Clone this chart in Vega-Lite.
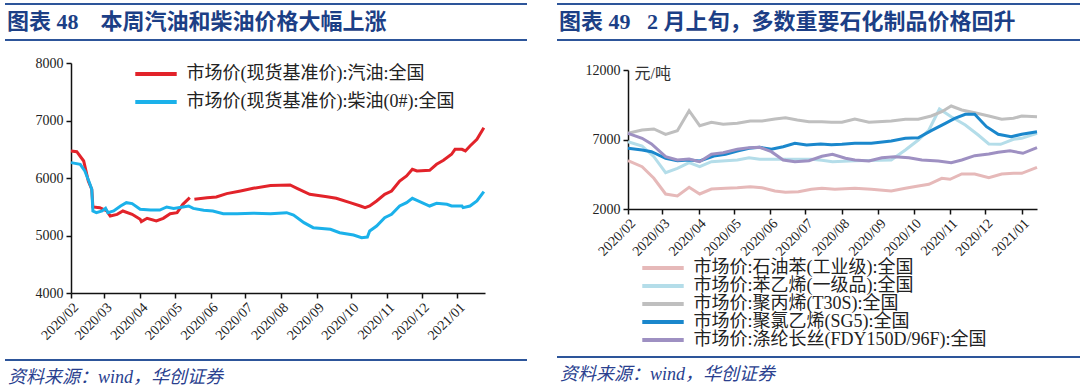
{
  "$schema": "https://vega.github.io/schema/vega-lite/v6.json",
  "background": "white",
  "padding": {"left": 4, "top": 3, "right": 0, "bottom": 0},
  "config": {
    "view": {"stroke": null},
    "font": "Liberation Serif, Noto Sans CJK SC",
    "axis": {"grid": false, "domainColor": "#111", "domainWidth": 1.5, "tickColor": "#111", "tickWidth": 1.5, "tickSize": 5, "labelFont": "Liberation Serif", "labelFontSize": 14, "labelColor": "#222", "labelOverlap": false}
  },
  "resolve": {"scale": {"color": "independent", "x": "independent", "y": "independent"}, "legend": {"color": "independent"}},
  "datasets": {
    "oil": [
      {"d":"2020-02-01","s":"市场价(现货基准价):汽油:全国","v":6470},
      {"d":"2020-02-06","s":"市场价(现货基准价):汽油:全国","v":6457},
      {"d":"2020-02-12","s":"市场价(现货基准价):汽油:全国","v":6296},
      {"d":"2020-02-16","s":"市场价(现货基准价):汽油:全国","v":5948},
      {"d":"2020-02-19","s":"市场价(现货基准价):汽油:全国","v":5804},
      {"d":"2020-02-20","s":"市场价(现货基准价):汽油:全国","v":5496},
      {"d":"2020-02-26","s":"市场价(现货基准价):汽油:全国","v":5484},
      {"d":"2020-03-03","s":"市场价(现货基准价):汽油:全国","v":5426},
      {"d":"2020-03-06","s":"市场价(现货基准价):汽油:全国","v":5339},
      {"d":"2020-03-12","s":"市场价(现货基准价):汽油:全国","v":5368},
      {"d":"2020-03-17","s":"市场价(现货基准价):汽油:全国","v":5426},
      {"d":"2020-03-25","s":"市场价(现货基准价):汽油:全国","v":5368},
      {"d":"2020-04-01","s":"市场价(现货基准价):汽油:全国","v":5281},
      {"d":"2020-04-02","s":"市场价(现货基准价):汽油:全国","v":5241},
      {"d":"2020-04-07","s":"市场价(现货基准价):汽油:全国","v":5299},
      {"d":"2020-04-15","s":"市场价(现货基准价):汽油:全国","v":5252},
      {"d":"2020-04-21","s":"市场价(现货基准价):汽油:全国","v":5299},
      {"d":"2020-04-27","s":"市场价(现货基准价):汽油:全国","v":5380},
      {"d":"2020-05-03","s":"市场价(现货基准价):汽油:全国","v":5397},
      {"d":"2020-05-08","s":"市场价(现货基准价):汽油:全国","v":5542},
      {"d":"2020-05-14","s":"市场价(现货基准价):汽油:全国","v":5658},
      {"d":"2020-05-16","s":"市场价(现货基准价):汽油:全国","v":null},
      {"d":"2020-05-18","s":"市场价(现货基准价):汽油:全国","v":5629},
      {"d":"2020-05-29","s":"市场价(现货基准价):汽油:全国","v":5658},
      {"d":"2020-06-06","s":"市场价(现货基准价):汽油:全国","v":5670},
      {"d":"2020-06-15","s":"市场价(现货基准价):汽油:全国","v":5728},
      {"d":"2020-06-27","s":"市场价(现货基准价):汽油:全国","v":5774},
      {"d":"2020-07-08","s":"市场价(现货基准价):汽油:全国","v":5821},
      {"d":"2020-07-23","s":"市场价(现货基准价):汽油:全国","v":5870},
      {"d":"2020-08-09","s":"市场价(现货基准价):汽油:全国","v":5878},
      {"d":"2020-08-15","s":"市场价(现货基准价):汽油:全国","v":5821},
      {"d":"2020-08-26","s":"市场价(现货基准价):汽油:全国","v":5716},
      {"d":"2020-09-10","s":"市场价(现货基准价):汽油:全国","v":5675},
      {"d":"2020-09-18","s":"市场价(现货基准价):汽油:全国","v":5647},
      {"d":"2020-09-30","s":"市场价(现货基准价):汽油:全国","v":5571},
      {"d":"2020-10-09","s":"市场价(现货基准价):汽油:全国","v":5513},
      {"d":"2020-10-13","s":"市场价(现货基准价):汽油:全国","v":5484},
      {"d":"2020-10-17","s":"市场价(现货基准价):汽油:全国","v":5513},
      {"d":"2020-10-23","s":"市场价(现货基准价):汽油:全国","v":5600},
      {"d":"2020-10-30","s":"市场价(现货基准价):汽油:全国","v":5716},
      {"d":"2020-11-05","s":"市场价(现货基准价):汽油:全国","v":5774},
      {"d":"2020-11-12","s":"市场价(现货基准价):汽油:全国","v":5948},
      {"d":"2020-11-18","s":"市场价(现货基准价):汽油:全国","v":6035},
      {"d":"2020-11-23","s":"市场价(现货基准价):汽油:全国","v":6151},
      {"d":"2020-11-27","s":"市场价(现货基准价):汽油:全国","v":6122},
      {"d":"2020-12-08","s":"市场价(现货基准价):汽油:全国","v":6134},
      {"d":"2020-12-14","s":"市场价(现货基准价):汽油:全国","v":6238},
      {"d":"2020-12-20","s":"市场价(现货基准价):汽油:全国","v":6308},
      {"d":"2020-12-27","s":"市场价(现货基准价):汽油:全国","v":6412},
      {"d":"2020-12-30","s":"市场价(现货基准价):汽油:全国","v":6499},
      {"d":"2021-01-05","s":"市场价(现货基准价):汽油:全国","v":6499},
      {"d":"2021-01-08","s":"市场价(现货基准价):汽油:全国","v":6470},
      {"d":"2021-01-12","s":"市场价(现货基准价):汽油:全国","v":6557},
      {"d":"2021-01-18","s":"市场价(现货基准价):汽油:全国","v":6673},
      {"d":"2021-01-24","s":"市场价(现货基准价):汽油:全国","v":6875},
      {"d":"2020-02-01","s":"市场价(现货基准价):柴油(0#):全国","v":6267},
      {"d":"2020-02-09","s":"市场价(现货基准价):柴油(0#):全国","v":6238},
      {"d":"2020-02-13","s":"市场价(现货基准价):柴油(0#):全国","v":6122},
      {"d":"2020-02-17","s":"市场价(现货基准价):柴油(0#):全国","v":5919},
      {"d":"2020-02-19","s":"市场价(现货基准价):柴油(0#):全国","v":5804},
      {"d":"2020-02-20","s":"市场价(现货基准价):柴油(0#):全国","v":5426},
      {"d":"2020-02-23","s":"市场价(现货基准价):柴油(0#):全国","v":5397},
      {"d":"2020-02-28","s":"市场价(现货基准价):柴油(0#):全国","v":5426},
      {"d":"2020-03-02","s":"市场价(现货基准价):柴油(0#):全国","v":5472},
      {"d":"2020-03-04","s":"市场价(现货基准价):柴油(0#):全国","v":5397},
      {"d":"2020-03-09","s":"市场价(现货基准价):柴油(0#):全国","v":5426},
      {"d":"2020-03-15","s":"市场价(现货基准价):柴油(0#):全国","v":5513},
      {"d":"2020-03-20","s":"市场价(现货基准价):柴油(0#):全国","v":5571},
      {"d":"2020-03-25","s":"市场价(现货基准价):柴油(0#):全国","v":5554},
      {"d":"2020-04-01","s":"市场价(现货基准价):柴油(0#):全国","v":5455},
      {"d":"2020-04-10","s":"市场价(现货基准价):柴油(0#):全国","v":5443},
      {"d":"2020-04-18","s":"市场价(现货基准价):柴油(0#):全国","v":5443},
      {"d":"2020-04-24","s":"市场价(现货基准价):柴油(0#):全国","v":5496},
      {"d":"2020-04-30","s":"市场价(现货基准价):柴油(0#):全国","v":5472},
      {"d":"2020-05-08","s":"市场价(现货基准价):柴油(0#):全国","v":5496},
      {"d":"2020-05-13","s":"市场价(现货基准价):柴油(0#):全国","v":5513},
      {"d":"2020-05-17","s":"市场价(现货基准价):柴油(0#):全国","v":5472},
      {"d":"2020-05-26","s":"市场价(现货基准价):柴油(0#):全国","v":5438},
      {"d":"2020-06-03","s":"市场价(现货基准价):柴油(0#):全国","v":5426},
      {"d":"2020-06-12","s":"市场价(现货基准价):柴油(0#):全国","v":5380},
      {"d":"2020-06-24","s":"市场价(现货基准价):柴油(0#):全国","v":5380},
      {"d":"2020-07-08","s":"市场价(现货基准价):柴油(0#):全国","v":5386},
      {"d":"2020-07-23","s":"市场价(现货基准价):柴油(0#):全国","v":5380},
      {"d":"2020-08-06","s":"市场价(现货基准价):柴油(0#):全国","v":5397},
      {"d":"2020-08-12","s":"市场价(现货基准价):柴油(0#):全国","v":5357},
      {"d":"2020-08-21","s":"市场价(现货基准价):柴油(0#):全国","v":5223},
      {"d":"2020-08-29","s":"市场价(现货基准价):柴油(0#):全国","v":5136},
      {"d":"2020-09-13","s":"市场价(现货基准价):柴油(0#):全国","v":5107},
      {"d":"2020-09-21","s":"市场价(现货基准价):柴油(0#):全国","v":5049},
      {"d":"2020-10-03","s":"市场价(现货基准价):柴油(0#):全国","v":5009},
      {"d":"2020-10-10","s":"市场价(现货基准价):柴油(0#):全国","v":4962},
      {"d":"2020-10-15","s":"市场价(现货基准价):柴油(0#):全国","v":4974},
      {"d":"2020-10-17","s":"市场价(现货基准价):柴油(0#):全国","v":5078},
      {"d":"2020-10-23","s":"市场价(现货基准价):柴油(0#):全国","v":5165},
      {"d":"2020-10-30","s":"市场价(现货基准价):柴油(0#):全国","v":5310},
      {"d":"2020-11-05","s":"市场价(现货基准价):柴油(0#):全国","v":5368},
      {"d":"2020-11-12","s":"市场价(现货基准价):柴油(0#):全国","v":5513},
      {"d":"2020-11-18","s":"市场价(现货基准价):柴油(0#):全国","v":5571},
      {"d":"2020-11-23","s":"市场价(现货基准价):柴油(0#):全国","v":5647},
      {"d":"2020-11-27","s":"市场价(现货基准价):柴油(0#):全国","v":5612},
      {"d":"2020-12-08","s":"市场价(现货基准价):柴油(0#):全国","v":5513},
      {"d":"2020-12-14","s":"市场价(现货基准价):柴油(0#):全国","v":5560},
      {"d":"2020-12-23","s":"市场价(现货基准价):柴油(0#):全国","v":5542},
      {"d":"2020-12-27","s":"市场价(现货基准价):柴油(0#):全国","v":5513},
      {"d":"2021-01-05","s":"市场价(现货基准价):柴油(0#):全国","v":5513},
      {"d":"2021-01-06","s":"市场价(现货基准价):柴油(0#):全国","v":5484},
      {"d":"2021-01-12","s":"市场价(现货基准价):柴油(0#):全国","v":5513},
      {"d":"2021-01-18","s":"市场价(现货基准价):柴油(0#):全国","v":5600},
      {"d":"2021-01-24","s":"市场价(现货基准价):柴油(0#):全国","v":5762}
    ],
    "chem": [
      {"d":"2020-02-01","s":"市场价:石油苯(工业级):全国","v":5475},
      {"d":"2020-02-13","s":"市场价:石油苯(工业级):全国","v":5043},
      {"d":"2020-02-23","s":"市场价:石油苯(工业级):全国","v":4209},
      {"d":"2020-03-04","s":"市场价:石油苯(工业级):全国","v":3079},
      {"d":"2020-03-14","s":"市场价:石油苯(工业级):全国","v":2935},
      {"d":"2020-03-24","s":"市场价:石油苯(工业级):全国","v":3561},
      {"d":"2020-04-02","s":"市场价:石油苯(工业级):全国","v":3079},
      {"d":"2020-04-12","s":"市场价:石油苯(工业级):全国","v":3439},
      {"d":"2020-04-24","s":"市场价:石油苯(工业级):全国","v":3489},
      {"d":"2020-05-04","s":"市场价:石油苯(工业级):全国","v":3532},
      {"d":"2020-05-15","s":"市场价:石油苯(工业级):全国","v":3604},
      {"d":"2020-05-25","s":"市场价:石油苯(工业级):全国","v":3532},
      {"d":"2020-06-05","s":"市场价:石油苯(工业级):全国","v":3295},
      {"d":"2020-06-14","s":"市场价:石油苯(工业级):全国","v":3201},
      {"d":"2020-06-25","s":"市场价:石油苯(工业级):全国","v":3245},
      {"d":"2020-07-06","s":"市场价:石油苯(工业级):全国","v":3417},
      {"d":"2020-07-15","s":"市场价:石油苯(工业级):全国","v":3489},
      {"d":"2020-07-26","s":"市场价:石油苯(工业级):全国","v":3417},
      {"d":"2020-08-12","s":"市场价:石油苯(工业级):全国","v":3489},
      {"d":"2020-08-26","s":"市场价:石油苯(工业级):全国","v":3417},
      {"d":"2020-09-12","s":"市场价:石油苯(工业级):全国","v":3295},
      {"d":"2020-09-24","s":"市场价:石油苯(工业级):全国","v":3489},
      {"d":"2020-10-05","s":"市场价:石油苯(工业级):全国","v":3655},
      {"d":"2020-10-14","s":"市场价:石油苯(工业级):全国","v":3777},
      {"d":"2020-10-25","s":"市场价:石油苯(工业级):全国","v":4209},
      {"d":"2020-11-01","s":"市场价:石油苯(工业级):全国","v":4137},
      {"d":"2020-11-11","s":"市场价:石油苯(工业级):全国","v":4518},
      {"d":"2020-11-22","s":"市场价:石油苯(工业级):全国","v":4518},
      {"d":"2020-12-04","s":"市场价:石油苯(工业级):全国","v":4252},
      {"d":"2020-12-15","s":"市场价:石油苯(工业级):全国","v":4518},
      {"d":"2020-12-25","s":"市场价:石油苯(工业级):全国","v":4568},
      {"d":"2021-01-01","s":"市场价:石油苯(工业级):全国","v":4568},
      {"d":"2021-01-14","s":"市场价:石油苯(工业级):全国","v":5000},
      {"d":"2020-02-01","s":"市场价:苯乙烯(一级品):全国","v":6842},
      {"d":"2020-02-13","s":"市场价:苯乙烯(一级品):全国","v":6533},
      {"d":"2020-02-23","s":"市场价:苯乙烯(一级品):全国","v":5763},
      {"d":"2020-03-04","s":"市场价:苯乙烯(一级品):全国","v":4612},
      {"d":"2020-03-14","s":"市场价:苯乙烯(一级品):全国","v":4928},
      {"d":"2020-03-24","s":"市场价:苯乙烯(一级品):全国","v":5331},
      {"d":"2020-04-02","s":"市场价:苯乙烯(一级品):全国","v":5043},
      {"d":"2020-04-12","s":"市场价:苯乙烯(一级品):全国","v":5403},
      {"d":"2020-04-24","s":"市场价:苯乙烯(一级品):全国","v":5475},
      {"d":"2020-05-04","s":"市场价:苯乙烯(一级品):全国","v":5525},
      {"d":"2020-05-14","s":"市场价:苯乙烯(一级品):全国","v":5691},
      {"d":"2020-05-23","s":"市场价:苯乙烯(一级品):全国","v":5576},
      {"d":"2020-06-02","s":"市场价:苯乙烯(一级品):全国","v":5576},
      {"d":"2020-06-14","s":"市场价:苯乙烯(一级品):全国","v":5576},
      {"d":"2020-06-25","s":"市场价:苯乙烯(一级品):全国","v":5576},
      {"d":"2020-07-06","s":"市场价:苯乙烯(一级品):全国","v":5576},
      {"d":"2020-07-15","s":"市场价:苯乙烯(一级品):全国","v":5500},
      {"d":"2020-07-24","s":"市场价:苯乙烯(一级品):全国","v":5403},
      {"d":"2020-08-12","s":"市场价:苯乙烯(一级品):全国","v":5475},
      {"d":"2020-09-12","s":"市场价:苯乙烯(一级品):全国","v":5525},
      {"d":"2020-09-24","s":"市场价:苯乙烯(一级品):全国","v":6245},
      {"d":"2020-10-05","s":"市场价:苯乙烯(一级品):全国","v":6964},
      {"d":"2020-10-14","s":"市场价:苯乙烯(一级品):全国","v":7684},
      {"d":"2020-10-23","s":"市场价:苯乙烯(一级品):全国","v":9194},
      {"d":"2020-11-02","s":"市场价:苯乙烯(一级品):全国","v":8640},
      {"d":"2020-11-14","s":"市场价:苯乙烯(一级品):全国","v":8043},
      {"d":"2020-11-25","s":"市场价:苯乙烯(一级品):全国","v":7324},
      {"d":"2020-12-04","s":"市场价:苯乙烯(一级品):全国","v":6677},
      {"d":"2020-12-14","s":"市场价:苯乙烯(一级品):全国","v":6655},
      {"d":"2020-12-25","s":"市场价:苯乙烯(一级品):全国","v":7014},
      {"d":"2021-01-01","s":"市场价:苯乙烯(一级品):全国","v":7086},
      {"d":"2021-01-14","s":"市场价:苯乙烯(一级品):全国","v":7450},
      {"d":"2020-02-01","s":"市场价:聚丙烯(T30S):全国","v":7444},
      {"d":"2020-02-13","s":"市场价:聚丙烯(T30S):全国","v":7684},
      {"d":"2020-02-23","s":"市场价:聚丙烯(T30S):全国","v":7756},
      {"d":"2020-03-04","s":"市场价:聚丙烯(T30S):全国","v":7373},
      {"d":"2020-03-14","s":"市场价:聚丙烯(T30S):全国","v":7636},
      {"d":"2020-03-24","s":"市场价:聚丙烯(T30S):全国","v":9072},
      {"d":"2020-04-02","s":"市场价:聚丙烯(T30S):全国","v":7995},
      {"d":"2020-04-12","s":"市场价:聚丙烯(T30S):全国","v":8236},
      {"d":"2020-04-22","s":"市场价:聚丙烯(T30S):全国","v":8093},
      {"d":"2020-05-04","s":"市场价:聚丙烯(T30S):全国","v":8165},
      {"d":"2020-05-15","s":"市场价:聚丙烯(T30S):全国","v":8331},
      {"d":"2020-05-25","s":"市场价:聚丙烯(T30S):全国","v":8331},
      {"d":"2020-06-05","s":"市场价:聚丙烯(T30S):全国","v":8475},
      {"d":"2020-06-14","s":"市场价:聚丙烯(T30S):全国","v":8569},
      {"d":"2020-06-24","s":"市场价:聚丙烯(T30S):全国","v":8403},
      {"d":"2020-07-04","s":"市场价:聚丙烯(T30S):全国","v":8281},
      {"d":"2020-07-15","s":"市场价:聚丙烯(T30S):全国","v":8281},
      {"d":"2020-07-23","s":"市场价:聚丙烯(T30S):全国","v":8236},
      {"d":"2020-08-01","s":"市场价:聚丙烯(T30S):全国","v":8236},
      {"d":"2020-08-12","s":"市场价:聚丙烯(T30S):全国","v":8475},
      {"d":"2020-08-24","s":"市场价:聚丙烯(T30S):全国","v":8236},
      {"d":"2020-09-12","s":"市场价:聚丙烯(T30S):全国","v":8331},
      {"d":"2020-09-24","s":"市场价:聚丙烯(T30S):全国","v":8453},
      {"d":"2020-10-05","s":"市场价:聚丙烯(T30S):全国","v":8453},
      {"d":"2020-10-16","s":"市场价:聚丙烯(T30S):全国","v":8691},
      {"d":"2020-10-25","s":"市场价:聚丙烯(T30S):全国","v":9000},
      {"d":"2020-11-02","s":"市场价:聚丙烯(T30S):全国","v":9410},
      {"d":"2020-11-11","s":"市场价:聚丙烯(T30S):全国","v":9122},
      {"d":"2020-11-22","s":"市场价:聚丙烯(T30S):全国","v":8928},
      {"d":"2020-12-04","s":"市场价:聚丙烯(T30S):全国","v":8691},
      {"d":"2020-12-15","s":"市场价:聚丙烯(T30S):全国","v":8453},
      {"d":"2020-12-25","s":"市场价:聚丙烯(T30S):全国","v":8525},
      {"d":"2021-01-01","s":"市场价:聚丙烯(T30S):全国","v":8691},
      {"d":"2021-01-14","s":"市场价:聚丙烯(T30S):全国","v":8640},
      {"d":"2020-02-01","s":"市场价:聚氯乙烯(SG5):全国","v":6367},
      {"d":"2020-02-13","s":"市场价:聚氯乙烯(SG5):全国","v":6245},
      {"d":"2020-02-21","s":"市场价:聚氯乙烯(SG5):全国","v":6122},
      {"d":"2020-03-04","s":"市场价:聚氯乙烯(SG5):全国","v":5648},
      {"d":"2020-03-14","s":"市场价:聚氯乙烯(SG5):全国","v":5475},
      {"d":"2020-03-24","s":"市场价:聚氯乙烯(SG5):全国","v":5525},
      {"d":"2020-04-02","s":"市场价:聚氯乙烯(SG5):全国","v":5453},
      {"d":"2020-04-14","s":"市场价:聚氯乙烯(SG5):全国","v":5813},
      {"d":"2020-04-24","s":"市场价:聚氯乙烯(SG5):全国","v":5935},
      {"d":"2020-05-04","s":"市场价:聚氯乙烯(SG5):全国","v":6173},
      {"d":"2020-05-14","s":"市场价:聚氯乙烯(SG5):全国","v":6367},
      {"d":"2020-05-23","s":"市场价:聚氯乙烯(SG5):全国","v":6439},
      {"d":"2020-06-02","s":"市场价:聚氯乙烯(SG5):全国","v":6295},
      {"d":"2020-06-12","s":"市场价:聚氯乙烯(SG5):全国","v":6482},
      {"d":"2020-06-22","s":"市场价:聚氯乙烯(SG5):全国","v":6727},
      {"d":"2020-07-02","s":"市场价:聚氯乙烯(SG5):全国","v":6605},
      {"d":"2020-07-14","s":"市场价:聚氯乙烯(SG5):全国","v":6677},
      {"d":"2020-07-23","s":"市场价:聚氯乙烯(SG5):全国","v":6630},
      {"d":"2020-08-01","s":"市场价:聚氯乙烯(SG5):全国","v":6655},
      {"d":"2020-08-12","s":"市场价:聚氯乙烯(SG5):全国","v":6727},
      {"d":"2020-08-26","s":"市场价:聚氯乙烯(SG5):全国","v":6727},
      {"d":"2020-09-12","s":"市场价:聚氯乙烯(SG5):全国","v":6892},
      {"d":"2020-09-24","s":"市场价:聚氯乙烯(SG5):全国","v":7086},
      {"d":"2020-10-05","s":"市场价:聚氯乙烯(SG5):全国","v":7130},
      {"d":"2020-10-16","s":"市场价:聚氯乙烯(SG5):全国","v":7636},
      {"d":"2020-10-28","s":"市场价:聚氯乙烯(SG5):全国","v":8165},
      {"d":"2020-11-05","s":"市场价:聚氯乙烯(SG5):全国","v":8525},
      {"d":"2020-11-14","s":"市场价:聚氯乙烯(SG5):全国","v":8813},
      {"d":"2020-11-22","s":"市场价:聚氯乙烯(SG5):全国","v":8813},
      {"d":"2020-12-02","s":"市场价:聚氯乙烯(SG5):全国","v":7921},
      {"d":"2020-12-12","s":"市场价:聚氯乙烯(SG5):全国","v":7374},
      {"d":"2020-12-23","s":"市场价:聚氯乙烯(SG5):全国","v":7201},
      {"d":"2021-01-01","s":"市场价:聚氯乙烯(SG5):全国","v":7374},
      {"d":"2021-01-14","s":"市场价:聚氯乙烯(SG5):全国","v":7563},
      {"d":"2020-02-01","s":"市场价:涤纶长丝(FDY150D/96F):全国","v":7444},
      {"d":"2020-02-13","s":"市场价:涤纶长丝(FDY150D/96F):全国","v":7086},
      {"d":"2020-02-21","s":"市场价:涤纶长丝(FDY150D/96F):全国","v":6677},
      {"d":"2020-03-04","s":"市场价:涤纶长丝(FDY150D/96F):全国","v":5763},
      {"d":"2020-03-14","s":"市场价:涤纶长丝(FDY150D/96F):全国","v":5525},
      {"d":"2020-03-24","s":"市场价:涤纶长丝(FDY150D/96F):全国","v":5597},
      {"d":"2020-04-02","s":"市场价:涤纶长丝(FDY150D/96F):全国","v":5403},
      {"d":"2020-04-12","s":"市场价:涤纶长丝(FDY150D/96F):全国","v":5935},
      {"d":"2020-04-22","s":"市场价:涤纶长丝(FDY150D/96F):全国","v":6050},
      {"d":"2020-05-04","s":"市场价:涤纶长丝(FDY150D/96F):全国","v":6295},
      {"d":"2020-05-14","s":"市场价:涤纶长丝(FDY150D/96F):全国","v":6410},
      {"d":"2020-05-23","s":"市场价:涤纶长丝(FDY150D/96F):全国","v":6439},
      {"d":"2020-06-02","s":"市场价:涤纶长丝(FDY150D/96F):全国","v":6122},
      {"d":"2020-06-12","s":"市场价:涤纶长丝(FDY150D/96F):全国","v":5525},
      {"d":"2020-06-22","s":"市场价:涤纶长丝(FDY150D/96F):全国","v":5403},
      {"d":"2020-07-04","s":"市场价:涤纶长丝(FDY150D/96F):全国","v":5475},
      {"d":"2020-07-15","s":"市场价:涤纶长丝(FDY150D/96F):全国","v":5790},
      {"d":"2020-07-24","s":"市场价:涤纶长丝(FDY150D/96F):全国","v":5935},
      {"d":"2020-08-04","s":"市场价:涤纶长丝(FDY150D/96F):全国","v":5648},
      {"d":"2020-08-12","s":"市场价:涤纶长丝(FDY150D/96F):全国","v":5525},
      {"d":"2020-08-24","s":"市场价:涤纶长丝(FDY150D/96F):全国","v":5453},
      {"d":"2020-09-04","s":"市场价:涤纶长丝(FDY150D/96F):全国","v":5691},
      {"d":"2020-09-15","s":"市场价:涤纶长丝(FDY150D/96F):全国","v":5763},
      {"d":"2020-09-27","s":"市场价:涤纶长丝(FDY150D/96F):全国","v":5691},
      {"d":"2020-10-08","s":"市场价:涤纶长丝(FDY150D/96F):全国","v":5525},
      {"d":"2020-10-22","s":"市场价:涤纶长丝(FDY150D/96F):全国","v":5453},
      {"d":"2020-11-02","s":"市场价:涤纶长丝(FDY150D/96F):全国","v":5331},
      {"d":"2020-11-11","s":"市场价:涤纶长丝(FDY150D/96F):全国","v":5525},
      {"d":"2020-11-22","s":"市场价:涤纶长丝(FDY150D/96F):全国","v":5835},
      {"d":"2020-12-04","s":"市场价:涤纶长丝(FDY150D/96F):全国","v":5957},
      {"d":"2020-12-12","s":"市场价:涤纶长丝(FDY150D/96F):全国","v":6079},
      {"d":"2020-12-22","s":"市场价:涤纶长丝(FDY150D/96F):全国","v":6194},
      {"d":"2021-01-02","s":"市场价:涤纶长丝(FDY150D/96F):全国","v":6007},
      {"d":"2021-01-14","s":"市场价:涤纶长丝(FDY150D/96F):全国","v":6410}
    ]
  },
  "spacing": 28,
  "hconcat": [
    {
      "spacing": 15,
      "resolve": {"scale": {"color": "independent", "x": "independent", "y": "independent"}, "legend": {"color": "independent"}},
      "vconcat": [
        {
          "width": 522, "height": 36,
          "data": {"values": [{"t": "图表 48\u00a0\u00a0\u00a0\u00a0本周汽油和柴油价格大幅上涨"}]},
          "layer": [
            {"mark": {"type": "rule", "color": "#2d559a", "strokeWidth": 2}, "encoding": {"y": {"datum": 1, "type": "quantitative", "scale": {"domain": [0, 1]}, "axis": null}}},
            {"mark": {"type": "rule", "color": "#2d559a", "strokeWidth": 2}, "encoding": {"y": {"datum": 0, "type": "quantitative", "scale": {"domain": [0, 1]}, "axis": null}}},
            {"mark": {"type": "text", "align": "left", "baseline": "middle", "dx": 2, "fontSize": 22, "fontWeight": "bold", "color": "#1c3f86", "font": "Liberation Serif, Noto Sans CJK SC"},
             "encoding": {"x": {"datum": 0, "type": "quantitative", "scale": {"domain": [0, 1]}, "axis": null}, "y": {"datum": 0.5, "type": "quantitative", "scale": {"domain": [0, 1]}, "axis": null}, "text": {"field": "t"}}}
          ]
        },
        {
          "spacing": 16,
          "resolve": {"scale": {"color": "independent", "x": "independent", "y": "independent"}, "legend": {"color": "independent"}},
          "vconcat": [
            {
              "spacing": 0,
              "resolve": {"scale": {"color": "independent", "x": "independent", "y": "independent"}, "legend": {"color": "independent"}},
              "hconcat": [
                {"width": 1, "height": 230, "data": {"values": []}, "mark": {"type": "text"}, "encoding": {}},
                {
                  "width": 414, "height": 230,
                  "data": {"name": "oil"},
                  "mark": {"type": "line", "strokeWidth": 3},
                  "encoding": {
                    "x": {"field": "d", "type": "temporal", "scale": {"type": "utc", "domain": [{"year": 2020, "month": 2, "date": 1, "utc": true}, {"year": 2021, "month": 1, "date": 25, "utc": true}]}, "axis": {"title": null, "format": "%Y/%m", "tickCount": {"interval": "month", "step": 1}, "labelAngle": -45, "labelPadding": 2}},
                    "y": {"field": "v", "type": "quantitative", "scale": {"domain": [4000, 8000], "zero": false, "nice": false}, "axis": {"title": null, "format": "d", "values": [4000, 5000, 6000, 7000, 8000], "minExtent": 65, "labelPadding": 3}},
                    "color": {"field": "s", "type": "nominal", "scale": {"domain": ["市场价(现货基准价):汽油:全国", "市场价(现货基准价):柴油(0#):全国"], "range": ["#e2232a", "#1bb1ea"]},
                      "legend": {"orient": "none", "legendX": 76, "legendY": 2, "title": null, "padding": 0, "symbolType": "M-2.96,0H2.96", "symbolSize": 196, "symbolStrokeWidth": 4, "labelFontSize": 18, "labelFont": "Liberation Serif, Noto Sans CJK SC", "labelColor": "#222", "rowPadding": 10, "labelOffset": 21.5, "labelLimit": 400}}
                  }
                }
              ]
            },
            {
              "width": 522, "height": 18,
              "data": {"values": [{"t": "资料来源：wind，华创证券"}]},
              "layer": [
                {"mark": {"type": "rule", "color": "#2d559a", "strokeWidth": 2}, "encoding": {"y": {"datum": 1, "type": "quantitative", "scale": {"domain": [0, 1]}, "axis": null}}},
                {"mark": {"type": "text", "align": "left", "baseline": "middle", "dx": 3, "fontSize": 18, "fontStyle": "italic", "color": "#2a3f8f", "font": "Liberation Serif, Noto Sans CJK SC"},
                 "encoding": {"x": {"datum": 0, "type": "quantitative", "scale": {"domain": [0, 1]}, "axis": null}, "y": {"datum": 0, "type": "quantitative", "scale": {"domain": [0, 1]}, "axis": null}, "text": {"field": "t"}}}
              ]
            }
          ]
        }
      ]
    },
    {
      "spacing": 22,
      "resolve": {"scale": {"color": "independent", "x": "independent", "y": "independent"}, "legend": {"color": "independent"}},
      "vconcat": [
        {
          "width": 525, "height": 36,
          "data": {"values": [{"t": "图表 49\u00a0\u00a0\u00a02 月上旬，多数重要石化制品价格回升"}]},
          "layer": [
            {"mark": {"type": "rule", "color": "#2d559a", "strokeWidth": 2}, "encoding": {"y": {"datum": 1, "type": "quantitative", "scale": {"domain": [0, 1]}, "axis": null}}},
            {"mark": {"type": "rule", "color": "#2d559a", "strokeWidth": 2}, "encoding": {"y": {"datum": 0, "type": "quantitative", "scale": {"domain": [0, 1]}, "axis": null}}},
            {"mark": {"type": "text", "align": "left", "baseline": "middle", "dx": 2, "fontSize": 22, "fontWeight": "bold", "color": "#1c3f86", "font": "Liberation Serif, Noto Sans CJK SC"},
             "encoding": {"x": {"datum": 0, "type": "quantitative", "scale": {"domain": [0, 1]}, "axis": null}, "y": {"datum": 0.5, "type": "quantitative", "scale": {"domain": [0, 1]}, "axis": null}, "text": {"field": "t"}}}
          ]
        },
        {
          "spacing": 7,
          "resolve": {"scale": {"color": "independent", "x": "independent", "y": "independent"}, "legend": {"color": "independent"}},
          "vconcat": [
            {
              "spacing": 0,
              "resolve": {"scale": {"color": "independent", "x": "independent", "y": "independent"}, "legend": {"color": "independent"}},
              "hconcat": [
                {"width": 1, "height": 139, "data": {"values": []}, "mark": {"type": "text"}, "encoding": {}},
                {
                  "width": 409, "height": 139,
                  "data": {"name": "chem"},
                  "mark": {"type": "line", "strokeWidth": 3},
                  "encoding": {
                    "x": {"field": "d", "type": "temporal", "scale": {"type": "utc", "domain": [{"year": 2020, "month": 2, "date": 1, "utc": true}, {"year": 2021, "month": 1, "date": 14, "utc": true}]}, "axis": {"title": null, "format": "%Y/%m", "tickCount": {"interval": "month", "step": 1}, "labelAngle": -45, "labelPadding": 2}},
                    "y": {"field": "v", "type": "quantitative", "scale": {"domain": [2000, 12000], "zero": false, "nice": false}, "axis": {"title": "元/吨", "titleAngle": 0, "titleAlign": "left", "titleBaseline": "middle", "titleX": 6, "titleY": 3, "titleFontSize": 16, "titleFontWeight": "normal", "titleColor": "#333", "titleFont": "Liberation Serif, Noto Sans CJK SC", "format": "d", "values": [2000, 7000, 12000], "minExtent": 70, "labelPadding": 3}},
                    "color": {"field": "s", "type": "nominal", "scale": {"domain": ["市场价:石油苯(工业级):全国", "市场价:苯乙烯(一级品):全国", "市场价:聚丙烯(T30S):全国", "市场价:聚氯乙烯(SG5):全国", "市场价:涤纶长丝(FDY150D/96F):全国"], "range": ["#e6b9b9", "#b4dde9", "#bfbfbf", "#1a87cc", "#9e90c2"]},
                      "legend": {"orient": "none", "legendX": 26, "legendY": 189, "title": null, "padding": 0, "symbolType": "M-2.96,0H2.96", "symbolSize": 196, "symbolStrokeWidth": 4, "labelFontSize": 18, "labelFont": "Liberation Serif, Noto Sans CJK SC", "labelColor": "#222", "rowPadding": 0, "labelOffset": 21.5, "labelLimit": 400}}
                  }
                }
              ]
            },
            {
              "width": 525, "height": 18,
              "data": {"values": [{"t": "资料来源：wind，华创证券"}]},
              "layer": [
                {"mark": {"type": "rule", "color": "#2d559a", "strokeWidth": 2}, "encoding": {"y": {"datum": 1, "type": "quantitative", "scale": {"domain": [0, 1]}, "axis": null}}},
                {"mark": {"type": "text", "align": "left", "baseline": "middle", "dx": 3, "fontSize": 18, "fontStyle": "italic", "color": "#2a3f8f", "font": "Liberation Serif, Noto Sans CJK SC"},
                 "encoding": {"x": {"datum": 0, "type": "quantitative", "scale": {"domain": [0, 1]}, "axis": null}, "y": {"datum": 0, "type": "quantitative", "scale": {"domain": [0, 1]}, "axis": null}, "text": {"field": "t"}}}
              ]
            }
          ]
        }
      ]
    }
  ]
}
